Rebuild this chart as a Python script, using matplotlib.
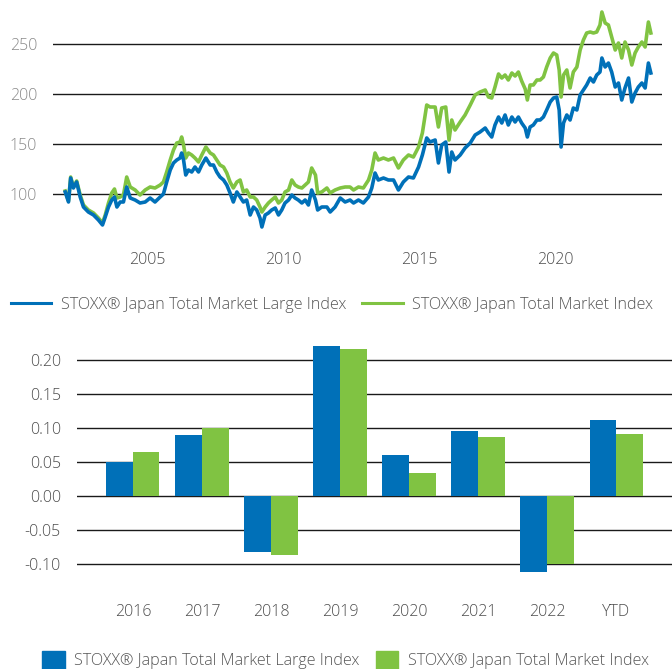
import matplotlib
matplotlib.use("Agg")
import matplotlib.pyplot as plt
from matplotlib.lines import Line2D
from matplotlib.patches import Patch

plt.rcParams["font.family"] = ["Open Sans", "DejaVu Sans"]
plt.rcParams["font.weight"] = "light"

BLUE = "#0070B8"
GREEN = "#80C342"
LARGE_LABEL = "STOXX® Japan Total Market Large Index"
TOTAL_LABEL = "STOXX® Japan Total Market Index"

# index levels (decimal years)
dates = [
    2001.99, 2002.11, 2002.19, 2002.29, 2002.41, 2002.54, 2002.66, 2002.84,
    2003.03, 2003.21, 2003.36, 2003.46, 2003.58, 2003.70, 2003.80, 2003.89,
    2004.01, 2004.13, 2004.25, 2004.38, 2004.56, 2004.74, 2004.93,
    2005.11, 2005.29, 2005.48, 2005.60, 2005.72, 2005.85, 2005.97,
    2006.09, 2006.21, 2006.27, 2006.34, 2006.42, 2006.52, 2006.64,
    2006.76, 2006.89, 2007.01, 2007.16, 2007.32, 2007.44, 2007.56, 2007.68, 2007.81, 2007.93,
    2008.05, 2008.17, 2008.30, 2008.42, 2008.54, 2008.66, 2008.79, 2008.91,
    2009.03, 2009.15, 2009.22, 2009.34, 2009.46, 2009.58, 2009.71, 2009.83, 2009.95,
    2010.07, 2010.20, 2010.32, 2010.44, 2010.56, 2010.69, 2010.81, 2010.93,
    2011.05, 2011.19, 2011.27, 2011.42, 2011.61, 2011.73, 2011.91,
    2012.10, 2012.28, 2012.46, 2012.59, 2012.77, 2012.95,
    2013.14, 2013.26, 2013.38, 2013.50, 2013.69, 2013.87,
    2014.06, 2014.24, 2014.42, 2014.61, 2014.79, 2014.98,
    2015.12, 2015.28, 2015.40, 2015.59, 2015.71, 2015.83, 2015.98,
    2016.10, 2016.20, 2016.32, 2016.51, 2016.69, 2016.88, 2017.06, 2017.24,
    2017.43, 2017.55, 2017.67, 2017.79, 2017.92,
    2018.04, 2018.16, 2018.28, 2018.41, 2018.53, 2018.65, 2018.77, 2018.90, 2018.98,
    2019.08, 2019.20, 2019.33, 2019.45, 2019.57, 2019.69, 2019.82, 2019.94,
    2020.06, 2020.15, 2020.22, 2020.31, 2020.43, 2020.55, 2020.67, 2020.80, 2020.92,
    2021.04, 2021.16, 2021.29, 2021.41, 2021.53, 2021.65, 2021.72, 2021.84, 2021.96,
    2022.08, 2022.21, 2022.33, 2022.45, 2022.57, 2022.70, 2022.82, 2022.94,
    2023.06, 2023.19, 2023.31, 2023.43, 2023.52,
]
large_index = [
    102, 92, 116, 106, 112, 97, 87, 82,
    79, 74, 69, 77, 87, 94, 97, 87,
    92, 92, 107, 96, 94, 91, 92,
    96, 92, 97, 100, 112, 124, 131,
    134, 136, 141, 134, 119, 124, 122,
    127, 122, 129, 136, 129, 129, 122, 117, 114, 109,
    101, 92, 102, 97, 92, 94, 79, 87,
    84, 76, 67, 79, 81, 84, 86, 79, 84,
    91, 94, 99, 96, 94, 91, 94, 89,
    104, 94, 84, 87, 87, 82, 87,
    96, 92, 94, 91, 94, 91,
    97, 106, 121, 114, 116, 114,
    114, 104, 112, 117, 116, 127,
    139, 156, 152, 154, 131, 149, 152,
    122, 142, 134, 139, 146, 151, 159, 162,
    166, 161, 157, 169, 177,
    171, 179, 169, 177, 172, 177, 171, 166, 157,
    167, 169, 174, 174, 177, 184, 192, 196,
    197, 184, 147, 171, 179, 174, 186, 184, 199,
    204, 209, 216, 212, 219, 222, 236, 227, 231,
    222, 207, 211, 194, 206, 216, 192, 201,
    207, 211, 206, 231, 221,
]
total_index = [
    103, 93, 117, 107, 113, 99, 89, 84,
    81, 76, 71, 79, 91, 101, 105, 96,
    97, 99, 117, 107, 104, 99, 104,
    107, 106, 109, 112, 122, 134, 144,
    151, 152, 157, 149, 136, 141, 139,
    136, 132, 139, 147, 141, 139, 134, 129, 127, 121,
    112, 106, 112, 114, 102, 104, 97, 97,
    94, 87, 82, 87, 91, 94, 97, 91, 94,
    102, 104, 114, 109, 107, 106, 109, 112,
    126, 119, 101, 102, 106, 101, 104,
    106, 107, 107, 104, 107, 106,
    114, 124, 141, 134, 136, 134,
    136, 126, 134, 139, 137, 147,
    161, 189, 187, 187, 167, 186, 187,
    154, 174, 164, 172, 179, 189, 199, 202,
    204, 197, 196, 207, 220,
    216, 219, 214, 221, 218, 222, 213, 205, 194,
    209, 209, 214, 214, 217, 227, 236, 241,
    239, 224, 197, 219, 224, 206, 222, 227, 244,
    254, 261, 262, 261, 262, 269, 282, 271, 269,
    257, 244, 251, 236, 252, 244, 229, 241,
    247, 252, 247, 272, 261,
]

# annual returns
years = ["2016", "2017", "2018", "2019", "2020", "2021", "2022", "YTD"]
large_returns = [0.0495, 0.0897, -0.0819, 0.2206, 0.0603, 0.0956, -0.1118, 0.1118]
total_returns = [0.0647, 0.0995, -0.0868, 0.2162, 0.0338, 0.0868, -0.0995, 0.0912]

W, H = 672, 669
fig = plt.figure(figsize=(W / 100, H / 100), dpi=100)


def style_axes(ax, ylab_color):
    for spine in ax.spines.values():
        spine.set_visible(False)
    ax.tick_params(axis="both", length=0, labelsize=11.5)
    ax.tick_params(axis="y", pad=11.5, labelcolor=ylab_color)
    ax.tick_params(axis="x", labelcolor="#4d4d4d")
    ax.yaxis.grid(True, color="#1a1a1a", linewidth=1.0)
    ax.set_axisbelow(True)


# --- line chart ---
ax1 = fig.add_axes([53 / W, 1 - 244 / H, 609 / W, 242 / H])
style_axes(ax1, "#8a8a8a")
ax1.tick_params(axis="x", pad=6)
ax1.plot(dates, total_index, color=GREEN, linewidth=2.6, solid_joinstyle="round")
ax1.plot(dates, large_index, color=BLUE, linewidth=2.6, solid_joinstyle="round")
ax1.set_xlim(2001.54, 2023.93)
ax1.set_ylim(50, 292)
ax1.set_xticks([2005, 2010, 2015, 2020])
ax1.set_yticks([100, 150, 200, 250])

fig.legend(
    handles=[Line2D([0], [0], color=BLUE, lw=2.2), Line2D([0], [0], color=GREEN, lw=2.2)],
    labels=[LARGE_LABEL, TOTAL_LABEL],
    loc="center left", bbox_to_anchor=(11 / W, 1 - 305 / H), ncol=2,
    frameon=False, fontsize=11.6, labelcolor="#555555",
    handlelength=2.5, handletextpad=0.6, columnspacing=1.0,
    borderpad=0, borderaxespad=0,
)

# --- bar chart ---
ax2 = fig.add_axes([77 / W, 1 - 591.2 / H, 595 / W, 251.6 / H])
style_axes(ax2, "#4d4d4d")
ax2.tick_params(axis="x", pad=9)
xs = list(range(len(years)))
bw = 0.385
ax2.bar([x - bw / 2 for x in xs], large_returns, width=bw, color=BLUE)
ax2.bar([x + bw / 2 for x in xs], total_returns, width=bw, color=GREEN)
ax2.set_xlim(-0.81, 7.81)
ax2.set_ylim(-0.14, 0.23)
ax2.set_xticks(xs)
ax2.set_xticklabels(years)
yt = [-0.10, -0.05, 0.0, 0.05, 0.10, 0.15, 0.20]
ax2.set_yticks(yt)
ax2.set_yticklabels([f"{v:.2f}" for v in yt])

fig.legend(
    handles=[Patch(color=BLUE), Patch(color=GREEN)],
    labels=[LARGE_LABEL, TOTAL_LABEL],
    loc="center left", bbox_to_anchor=(42 / W, 1 - 660 / H), ncol=2,
    frameon=False, fontsize=11.6, labelcolor="#555555",
    handlelength=1.4, handleheight=1.4, handletextpad=0.6, columnspacing=1.0,
    borderpad=0, borderaxespad=0,
)

fig.savefig("out.png", dpi=100)
